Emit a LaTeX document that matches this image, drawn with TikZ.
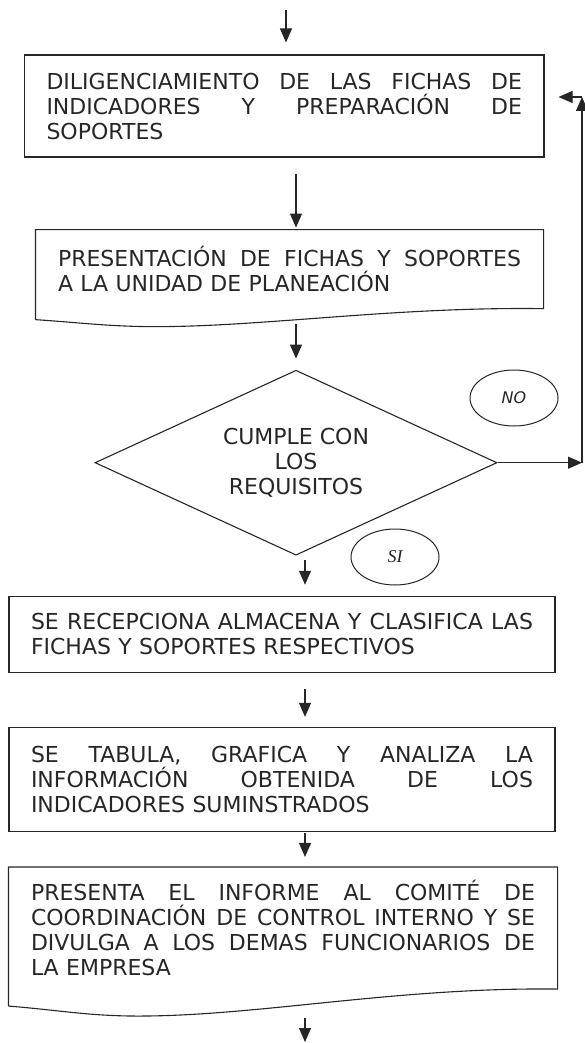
\documentclass[tikz,border=0pt]{standalone}
\usepackage{fontspec}
\setmainfont{DejaVu Sans}
\newfontfamily\serifit{Liberation Serif}
\usetikzlibrary{shapes.geometric,arrows.meta,positioning,calc}
\definecolor{tinta}{HTML}{262626}
\newcommand{\linea}[1]{\makebox[\hsize][s]{\spaceskip=.3333em plus 1fil\relax #1}}

\begin{document}
\begin{tikzpicture}[x=1pt, y=-1pt, node distance=40pt,
    caja/.style={rectangle, draw=tinta, line width=1.1pt, inner xsep=22pt, inner ysep=0pt, align=left, text=tinta, font=\fontsize{22}{25}\selectfont},
    documento/.style={caja, draw=none},
    decision/.style={diamond, aspect=2.17, draw=tinta, line width=1.1pt, minimum width=402pt, minimum height=185pt, inner sep=0pt, align=center, text=tinta, font=\fontsize{22}{25}\selectfont},
    respuesta/.style={ellipse, draw=tinta, line width=1pt, minimum width=88pt, minimum height=56pt, inner sep=0pt, text=tinta},
    linea/.style={draw=tinta, line width=1.1pt, line join=round},
    flecha/.style={-{Triangle[length=14pt, width=12pt]}, draw=tinta, line width=1.1pt}]

    \useasboundingbox (0,0) rectangle (584,1043);

    \coordinate (inicio) at (286,10);
    \coordinate (eje) at (305,0);
    \coordinate (fin) at (305,1042);
    \coordinate (retorno) at (582,97);

    \node [caja, text width=475.5pt, minimum height=102pt] (caja1) at (284.25,106)
        {\linea{DILIGENCIAMIENTO DE LAS FICHAS DE}\\\linea{INDICADORES Y PREPARACIÓN DE}\\SOPORTES};
    \node [documento, text width=463pt, minimum height=78pt, below=72pt of caja1, xshift=5.25pt] (caja2)
        {\linea{PRESENTACIÓN DE FICHAS Y SOPORTES}\\A LA UNIDAD DE PLANEACIÓN};
    \node [decision, below=61pt of caja2, xshift=6.5pt] (decision) {CUMPLE CON\\LOS\\REQUISITOS};
    \node [caja, text width=502pt, minimum height=76pt, below=40pt of decision, xshift=-14pt] (caja3)
        {\linea{SE RECEPCIONA ALMACENA Y CLASIFICA LAS}\\FICHAS Y SOPORTES RESPECTIVOS};
    \node [caja, text width=502pt, minimum height=104pt, below=54pt of caja3] (caja4)
        {\linea{SE TABULA, GRAFICA Y ANALIZA LA}\\\linea{INFORMACIÓN OBTENIDA DE LOS}\\INDICADORES SUMINSTRADOS};
    \node [documento, text width=504pt, minimum height=121pt, below=35pt of caja4, xshift=1pt] (caja5)
        {\linea{PRESENTA EL INFORME AL COMITÉ DE}\\\linea{COORDINACIÓN DE CONTROL INTERNO Y SE}\\\linea{DIVULGA A LOS DEMAS FUNCIONARIOS DE}\\LA EMPRESA};

    \node [respuesta, font=\itshape\fontsize{16}{18}\selectfont] (no) at (514,398) {NO};
    \node [respuesta, font=\serifit\itshape\fontsize{18}{20}\selectfont] (si) at (395,557) {SI};

    % contorno de los documentos
    \draw [linea] ($(caja2.south west)+(0,11)$) -- (caja2.north west) -- (caja2.north east) -- (caja2.south east)
        .. controls +(-150,-2) and +(110,0) .. ($(caja2.south west)+(120,18)$)
        .. controls +(-45,0) and +(45,3) .. ($(caja2.south west)+(0,11)$);
    \draw [linea] ($(caja5.south west)+(0,17)$) -- (caja5.north west) -- (caja5.north east) -- (caja5.south east)
        .. controls +(-160,-2) and +(120,0) .. ($(caja5.south west)+(130,27)$)
        .. controls +(-50,0) and +(50,4) .. ($(caja5.south west)+(0,17)$);

    \draw [flecha, shorten >=12pt] (inicio) -- (inicio |- caja1.north);
    \draw [flecha, shorten <=16pt, shorten >=2pt] (caja1.south -| decision.north) -- (caja2.north -| decision.north);
    \draw [flecha, shorten <=15pt, shorten >=11pt] (caja2.south -| decision.north) -- (decision.north);
    \draw [flecha, shorten <=4pt, shorten >=11pt] (decision.south -| eje) -- (caja3.north -| eje);
    \draw [flecha, shorten <=16pt, shorten >=10pt] (caja3.south -| eje) -- (caja4.north -| eje);
    \draw [flecha, shorten <=1pt, shorten >=10pt] (caja4.south -| eje) -- (caja5.north -| eje);
    \draw [flecha, shorten <=29pt] (caja5.south -| eje) -- (fin);

    % retorno cuando no cumple
    \draw [flecha] (decision.east) -- (decision.east -| retorno);
    \draw [flecha] (decision.east -| retorno) -- (retorno);
    \draw [flecha, shorten >=14pt] (retorno) -- (retorno -| caja1.east);
\end{tikzpicture}
\end{document}
